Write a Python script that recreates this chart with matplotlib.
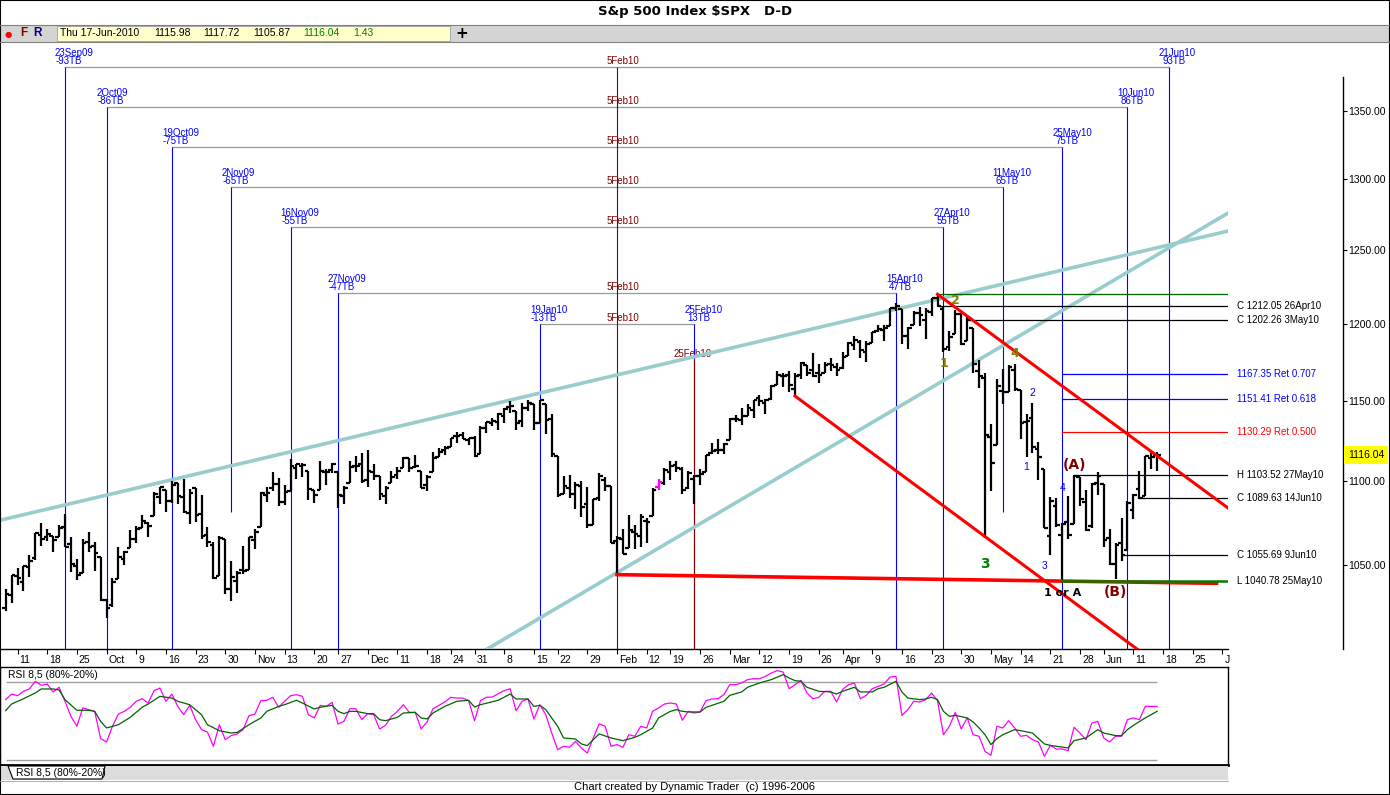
import matplotlib
matplotlib.use("Agg")
import matplotlib.pyplot as plt
import matplotlib.transforms as mtransforms
from matplotlib.lines import Line2D
from matplotlib.patches import Rectangle, Polygon
from matplotlib.ticker import NullLocator
import pandas as pd

plt.rcParams['font.family'] = ['Liberation Sans', 'DejaVu Sans']

# ---- trading calendar (bar 0 = 9 Sep 2009) ----
holidays = ['2009-11-26', '2009-12-25', '2010-01-01', '2010-01-18',
            '2010-02-15', '2010-04-02', '2010-05-31', '2010-07-05']
calendar = pd.bdate_range('2009-09-09', '2010-07-09', freq='C', holidays=holidays)

# ---- daily OHLC, 9 Sep 2009 .. 17 Jun 2010 ----
bar_open = [
    1025.36, 1032.99, 1043.92, 1040.15, 1049.03, 1053.99, 1067.87, 1066.60, 1067.14, 1066.35, 1072.69, 1062.56, 1049.48, 1045.38, 1063.69, 1061.02,
    1054.91, 1029.71, 1026.87, 1042.02, 1053.65, 1060.03, 1065.28, 1071.63, 1074.96, 1078.68, 1090.36, 1094.67, 1088.22, 1098.64, 1090.36, 1080.96, 1095.62, 1080.36, 1067.54, 1061.51, 1043.69, 1065.41,
    1036.18, 1040.92, 1047.30, 1047.30, 1064.95, 1072.31, 1091.86, 1096.04, 1098.31, 1087.59, 1094.13, 1108.08, 1109.44, 1106.44, 1094.66, 1094.86, 1105.83, 1106.49, 1105.47, 1091.07,
    1098.89, 1109.03, 1110.59, 1100.43, 1105.52, 1103.04, 1091.07, 1098.69, 1103.96, 1107.84, 1114.11, 1108.61, 1106.36, 1097.86, 1105.31, 1114.51, 1118.84, 1121.08, 1127.53, 1128.55, 1125.53, 1126.60,
    1116.56, 1132.66, 1135.71, 1136.27, 1140.52, 1145.96, 1143.81, 1137.31, 1145.68, 1147.72, 1136.03, 1147.95, 1138.68, 1115.49, 1092.40, 1095.80, 1091.94, 1096.93, 1086.32,
    1073.89, 1090.05, 1100.67, 1097.25, 1064.12, 1065.51, 1060.06, 1069.68, 1067.10, 1075.95, 1079.13, 1096.14, 1099.03, 1105.49, 1110.00, 1107.49, 1095.89, 1101.24, 1103.10,
    1105.36, 1117.01, 1119.36, 1119.12, 1125.12, 1138.40, 1137.56, 1140.22, 1143.96, 1151.71, 1148.53, 1150.83, 1159.94, 1166.13, 1166.68, 1157.25, 1166.47, 1172.70, 1170.03, 1167.58, 1167.71, 1173.75, 1171.75,
    1171.23, 1178.71, 1186.01, 1188.23, 1181.75, 1187.47, 1194.94, 1195.94, 1198.69, 1210.77, 1210.17, 1192.06, 1199.04, 1207.16, 1202.52, 1207.87, 1217.07, 1209.92, 1184.59, 1193.30, 1206.77,
    1188.58, 1197.50, 1169.24, 1164.38, 1127.04, 1122.27, 1156.39, 1155.43, 1170.04, 1157.19, 1136.52, 1138.78, 1119.57, 1107.34, 1067.26, 1084.78, 1067.42, 1075.51, 1074.27, 1102.59,
    1087.30, 1073.01, 1098.82, 1098.43, 1065.84, 1050.81, 1062.75, 1058.77, 1082.65, 1095.00, 1091.21, 1114.02, 1115.98]
bar_high = [
    1036.34, 1044.14, 1048.18, 1049.74, 1056.04, 1068.76, 1074.77, 1071.52, 1067.28, 1073.81, 1080.15, 1066.29, 1053.47, 1065.13, 1069.62, 1063.40,
    1054.91, 1030.60, 1042.58, 1060.55, 1058.02, 1070.67, 1073.04, 1079.46, 1075.30, 1093.17, 1096.56, 1094.67, 1100.17, 1098.64, 1101.36, 1095.21, 1095.83, 1091.75, 1072.48, 1063.26, 1066.83, 1065.41,
    1052.18, 1046.36, 1061.00, 1066.65, 1071.48, 1093.19, 1096.42, 1105.37, 1101.97, 1097.79, 1113.69, 1110.32, 1111.10, 1106.44, 1094.66, 1112.38, 1107.56, 1111.18, 1105.47, 1097.24,
    1112.28, 1115.58, 1117.28, 1119.13, 1110.72, 1103.04, 1097.04, 1106.25, 1108.50, 1114.76, 1114.11, 1116.21, 1106.36, 1103.74, 1117.68, 1120.27, 1121.58, 1126.48, 1130.38, 1130.38, 1126.42, 1127.64,
    1133.87, 1136.63, 1139.19, 1142.46, 1145.39, 1149.74, 1143.81, 1148.40, 1150.41, 1147.77, 1150.45, 1147.95, 1141.58, 1115.49, 1102.97, 1103.69, 1099.51, 1100.22, 1096.45,
    1089.38, 1104.73, 1102.72, 1097.25, 1067.13, 1071.20, 1079.28, 1073.67, 1080.04, 1077.81, 1095.67, 1101.03, 1108.24, 1112.42, 1112.29, 1108.58, 1106.42, 1103.50, 1107.24,
    1116.11, 1123.46, 1125.64, 1123.73, 1139.38, 1141.05, 1145.37, 1148.26, 1150.24, 1153.41, 1150.98, 1160.28, 1169.20, 1167.77, 1169.20, 1167.82, 1174.72, 1173.04, 1180.69, 1173.93, 1174.85, 1177.83, 1174.56,
    1181.43, 1187.73, 1191.80, 1189.60, 1188.55, 1194.66, 1199.20, 1199.04, 1210.65, 1213.92, 1210.17, 1197.87, 1208.58, 1210.99, 1210.27, 1217.28, 1219.80, 1211.38, 1195.05, 1209.36, 1207.99,
    1205.13, 1197.50, 1175.95, 1167.58, 1135.13, 1163.85, 1170.48, 1172.87, 1173.57, 1157.19, 1141.88, 1148.66, 1124.27, 1107.34, 1090.16, 1089.95, 1074.75, 1090.75, 1103.52, 1102.59,
    1094.77, 1098.56, 1105.67, 1098.43, 1071.36, 1063.15, 1077.74, 1087.85, 1092.25, 1105.91, 1115.59, 1118.74, 1117.72]
bar_low = [
    1023.97, 1028.04, 1038.40, 1035.00, 1043.42, 1052.87, 1061.20, 1064.27, 1057.46, 1066.35, 1060.39, 1045.85, 1041.17, 1045.38, 1057.83, 1046.47,
    1029.45, 1019.95, 1025.92, 1042.02, 1050.10, 1060.03, 1063.16, 1071.63, 1066.71, 1078.68, 1086.41, 1081.53, 1086.48, 1086.16, 1080.77, 1074.31, 1075.49, 1065.23, 1060.62, 1042.19, 1043.69, 1033.38,
    1029.38, 1033.94, 1045.15, 1047.30, 1059.32, 1072.31, 1087.40, 1093.81, 1084.90, 1085.33, 1094.13, 1101.13, 1102.70, 1088.40, 1086.81, 1094.86, 1097.63, 1104.75, 1083.74, 1086.25,
    1098.89, 1105.29, 1098.74, 1096.52, 1100.83, 1088.61, 1085.89, 1098.69, 1101.34, 1107.84, 1105.35, 1107.96, 1095.88, 1093.88, 1105.31, 1114.51, 1116.00, 1121.08, 1123.51, 1126.08, 1121.94, 1114.81,
    1116.56, 1129.66, 1133.95, 1131.32, 1136.22, 1142.02, 1131.77, 1133.18, 1143.80, 1131.39, 1135.77, 1129.25, 1114.84, 1090.18, 1092.40, 1089.86, 1083.11, 1078.46, 1071.59,
    1073.89, 1087.96, 1093.97, 1062.78, 1044.50, 1056.51, 1060.06, 1059.34, 1060.59, 1062.97, 1079.13, 1094.72, 1097.48, 1100.80, 1105.38, 1092.18, 1095.50, 1086.02, 1097.56,
    1105.36, 1116.51, 1116.58, 1116.66, 1125.12, 1136.77, 1134.90, 1140.09, 1138.99, 1146.97, 1141.45, 1150.35, 1159.94, 1159.09, 1155.33, 1152.88, 1163.83, 1166.01, 1165.09, 1161.48, 1167.71, 1168.92, 1165.77,
    1170.69, 1178.71, 1182.77, 1177.25, 1175.12, 1187.15, 1194.71, 1188.82, 1198.69, 1208.50, 1186.77, 1183.68, 1199.04, 1198.85, 1190.19, 1205.10, 1211.07, 1181.62, 1181.81, 1193.30, 1186.32,
    1188.58, 1168.12, 1158.15, 1065.79, 1094.15, 1122.27, 1147.71, 1155.43, 1156.14, 1126.14, 1114.96, 1117.20, 1100.66, 1071.58, 1055.90, 1072.70, 1040.78, 1065.59, 1074.27, 1084.78,
    1069.89, 1072.03, 1091.81, 1060.50, 1049.86, 1042.17, 1052.25, 1058.77, 1077.12, 1089.03, 1091.21, 1107.13, 1105.87]
bar_close = [
    1033.37, 1044.14, 1042.73, 1049.34, 1052.63, 1068.76, 1065.49, 1068.30, 1064.66, 1071.66, 1060.87, 1050.78, 1044.38, 1062.98, 1060.61, 1057.08,
    1029.85, 1025.21, 1040.46, 1054.72, 1057.58, 1065.48, 1071.49, 1076.19, 1073.19, 1092.02, 1096.56, 1087.68, 1097.91, 1091.06, 1081.40, 1092.91, 1079.60, 1066.95, 1063.41, 1042.63, 1066.11, 1036.19,
    1042.88, 1045.41, 1046.50, 1066.63, 1069.30, 1093.08, 1093.01, 1098.51, 1087.24, 1093.48, 1109.30, 1110.32, 1109.80, 1094.90, 1091.38, 1106.24, 1105.65, 1110.63, 1091.49, 1095.63,
    1108.86, 1109.24, 1099.92, 1105.98, 1103.25, 1091.94, 1095.95, 1102.35, 1106.41, 1114.11, 1107.93, 1109.18, 1096.08, 1102.47, 1114.05, 1118.02, 1120.59, 1126.48, 1127.78, 1126.20, 1126.42, 1115.10,
    1132.99, 1136.52, 1137.14, 1141.69, 1144.98, 1146.98, 1136.22, 1145.68, 1148.46, 1136.03, 1150.23, 1138.04, 1116.48, 1091.76, 1096.78, 1092.17, 1097.50, 1084.53, 1073.87,
    1089.19, 1103.32, 1097.28, 1063.11, 1066.19, 1056.74, 1070.52, 1068.13, 1078.47, 1075.51, 1094.87, 1099.51, 1106.75, 1109.17, 1108.01, 1094.60, 1105.24, 1102.94, 1104.49,
    1115.71, 1118.31, 1118.79, 1122.97, 1138.70, 1138.50, 1140.45, 1145.61, 1150.24, 1149.99, 1150.51, 1159.46, 1166.21, 1165.83, 1159.90, 1165.81, 1174.17, 1167.72, 1165.73, 1166.59, 1173.22, 1173.27, 1169.43,
    1178.10, 1187.44, 1189.44, 1182.45, 1186.44, 1194.37, 1196.48, 1197.30, 1210.65, 1211.67, 1192.13, 1197.52, 1207.17, 1205.94, 1208.67, 1217.28, 1212.05, 1183.71, 1191.36, 1206.78, 1186.69,
    1202.26, 1173.60, 1165.87, 1128.15, 1110.88, 1159.73, 1155.79, 1171.67, 1157.44, 1135.68, 1136.94, 1120.80, 1115.05, 1071.59, 1087.69, 1073.65, 1074.03, 1067.95, 1103.06, 1089.41,
    1070.71, 1098.38, 1102.83, 1064.88, 1050.47, 1062.00, 1055.69, 1086.84, 1091.60, 1089.63, 1115.23, 1114.61, 1116.04]
highlight_bar = '2010-02-17'

rsi = [66.7, 71.0, 69.7, 73.1, 74.9, 80.8, 77.7, 78.7, 72.6, 76.2,
       65.4, 53.8, 46.2, 60.3, 59.0, 57.7, 36.7, 34.1, 46.2, 55.6,
       57.7, 60.8, 65.4, 67.4, 64.1, 73.6, 75.6, 65.4, 71.0, 61.5,
       55.1, 62.3, 51.3, 43.6, 41.8, 30.8, 47.4, 35.9, 39.0, 40.3,
       43.6, 54.4, 55.6, 65.9, 66.2, 68.5, 60.8, 65.4, 69.7, 70.5,
       69.2, 55.1, 52.6, 62.3, 61.5, 64.6, 47.9, 50.0, 59.7, 59.7,
       51.3, 55.9, 55.1, 44.1, 46.9, 53.8, 57.7, 62.8, 56.9, 56.9,
       44.1, 49.5, 59.7, 62.3, 64.9, 68.5, 67.9, 67.9, 65.9, 50.5,
       65.9, 68.5, 68.7, 71.3, 73.6, 75.1, 58.2, 65.4, 67.2, 51.8,
       62.8, 55.1, 41.0, 28.2, 30.8, 30.0, 34.6, 29.5, 25.6, 37.2,
       48.0, 46.2, 30.8, 32.1, 30.0, 39.7, 38.5, 46.2, 44.9, 57.7,
       60.3, 63.3, 64.1, 63.3, 50.8, 57.7, 56.4, 57.2, 65.9, 67.2,
       67.4, 70.5, 78.2, 78.2, 79.5, 82.1, 82.8, 82.8, 84.6, 87.2,
       89.0, 87.9, 75.1, 78.2, 81.5, 71.8, 67.4, 68.5, 73.1, 73.1,
       64.9, 74.4, 78.2, 79.5, 67.4, 70.0, 75.1, 76.9, 78.7, 84.1,
       84.6, 54.6, 59.0, 65.4, 64.9, 66.7, 71.8, 65.9, 39.7, 46.2,
       56.9, 44.1, 52.6, 39.7, 38.5, 26.9, 23.8, 46.2, 44.9, 50.5,
       44.9, 38.5, 39.2, 35.9, 34.1, 23.1, 31.5, 28.7, 28.7, 27.4,
       45.4, 41.0, 35.9, 48.7, 50.0, 37.2, 34.1, 38.5, 38.5, 51.3,
       52.6, 51.3, 61.5, 61.5, 61.5]
rsi_avg_bars = [0, 1, 3, 5, 6, 8, 9, 10, 12, 14, 15, 16, 17, 19, 21, 23, 24, 26, 28, 29,
                31, 33, 34, 36, 38, 39, 41, 43, 44, 46, 47, 49, 50, 52, 53, 55, 56, 57, 58, 59,
                61, 62, 63, 64, 66, 67, 69, 70, 71, 72, 74, 76, 78, 79, 80, 83, 85, 86, 88, 89,
                90, 91, 93, 94, 96, 97, 98, 99, 100, 102, 104, 106, 107, 109, 110, 112, 113, 114, 115, 117,
                118, 119, 121, 122, 124, 125, 127, 129, 131, 132, 133, 134, 135, 137, 139, 140, 141, 143, 144, 146,
                147, 148, 150, 151, 152, 154, 155, 156, 157, 158, 159, 160, 162, 163, 164, 165, 166, 167, 168, 170,
                171, 173, 175, 176, 179, 180, 182, 184, 185, 187, 188, 189, 190, 192, 194]
rsi_avg = [58.2, 63.3, 67.4, 71.8, 74.9, 74.9, 74.1, 66.7, 58.5, 58.5, 57.7, 50.0, 44.9, 47.4, 53.1, 60.8, 63.3, 69.2, 67.9, 65.4,
           62.8, 55.1, 47.4, 42.8, 41.0, 41.5, 47.4, 52.6, 57.7, 61.5, 62.8, 66.2, 64.1, 59.5, 60.8, 62.3, 57.7, 55.9, 57.7, 57.7,
           55.9, 55.9, 51.3, 50.5, 53.1, 56.4, 56.9, 52.6, 51.8, 56.4, 61.5, 65.4, 66.2, 61.0, 62.8, 66.2, 71.0, 67.2, 67.2, 61.5,
           62.3, 59.0, 46.2, 37.2, 36.4, 32.6, 31.3, 35.9, 40.3, 37.2, 35.1, 37.7, 39.7, 44.9, 52.6, 57.7, 59.0, 57.7, 57.2, 57.2,
           60.8, 62.3, 65.4, 70.0, 72.6, 76.2, 79.5, 82.1, 85.9, 83.3, 81.3, 80.8, 76.2, 73.1, 72.6, 71.0, 73.1, 76.2, 72.6, 72.6,
           75.1, 76.2, 80.8, 72.6, 67.9, 66.7, 67.2, 68.5, 66.7, 57.7, 53.8, 54.6, 52.6, 49.5, 44.9, 39.7, 32.1, 36.7, 39.7, 43.6,
           42.8, 41.0, 32.6, 31.5, 29.5, 35.1, 37.2, 43.6, 41.0, 39.0, 39.0, 43.6, 46.9, 52.6, 57.7]

# ---- time-band lines around 5 Feb 2010 ----
pivot_date = '2010-02-05'
tb_left_dates = ['2009-09-23', '2009-10-02', '2009-10-19', '2009-11-02', '2009-11-16', '2009-11-27', '2010-01-19']
tb_right_dates = ['2010-06-21', '2010-06-10', '2010-05-25', '2010-05-11', '2010-04-27', '2010-04-15', '2010-02-25']
tb_counts = [93, 86, 75, 65, 55, 47, 13]
tb_levels = [1383.3, 1353.0, 1323.4, 1294.4, 1266.1, 1220.6, 1199.9]
tb_floors = [990, 990, 990, 1081.5, 990, 990, 990]
marker_date = '2010-02-25'
marker_top = 1177.5

# ---- price levels on the right ----
level_prices = [1212.05, 1202.26, 1167.35, 1151.41, 1130.29, 1103.52, 1089.63, 1055.69, 1040.78]
level_from = ['2010-04-26', '2010-05-03', '2010-05-25', '2010-05-25', '2010-05-25',
              '2010-05-27', '2010-06-14', '2010-06-09', '2010-05-25']
level_labels = ['C 1212.05 26Apr10', 'C 1202.26 3May10', '1167.35 Ret 0.707', '1151.41 Ret 0.618',
                '1130.29 Ret 0.500', 'H 1103.52 27May10', 'C 1089.63 14Jun10', 'C 1055.69 9Jun10',
                'L 1040.78 25May10']
level_line_colors = ['black', 'black', '#0000ff', '#0000ff', '#ff0000', 'black', 'black', 'black', '#008000']
level_text_colors = ['black', 'black', '#0000ff', '#0000ff', '#ff0000', 'black', 'black', 'black', 'black']
top_level = 1219.80
top_level_from = '2010-04-26'

# ---- trend lines (bar position, price) ----
teal_upper_x, teal_upper_y = [-1, 206], [1076.4, 1263.3]
teal_lower_x, teal_lower_y = [80, 206], [1000.2, 1276.0]
red_top_x, red_top_y = ['2010-04-26', 206], [1219.80, 1083.6]
red_bottom_x, red_bottom_y = ['2010-03-22', 192], [1153.0, 999.0]
red_flat_x, red_flat_y = ['2010-02-05', 204], [1044.5, 1039.5]

# ---- wave labels ----
wave_text = ['1', '2', '3', '4', '1', '2', '3', '4', '1 or A', '(A)', '(B)']
wave_dates = ['2010-04-27', '2010-04-29', '2010-05-06', '2010-05-13', '2010-05-17', '2010-05-18',
              '2010-05-20', '2010-05-25', '2010-05-25', '2010-05-27', '2010-06-08']
wave_prices = [1173.9, 1215.9, 1050.6, 1180.7, 1108.6, 1154.9, 1049.5, 1095.7, 1033.9, 1109.8, 1034.5]
wave_colors = ['#808000', '#808000', '#008000', '#808000', '#0000ff', '#0000ff', '#0000ff', '#0000ff',
               'black', '#800000', '#800000']
wave_sizes = [9, 9, 10, 9, 7.5, 7.5, 7.5, 7.5, 8, 10, 10]
wave_bold = [True, True, True, True, False, False, False, False, True, True, True]

# ---- date axis ----
tick_dates = ['2009-09-11', '2009-09-18', '2009-09-25', '2009-10-02', '2009-10-09', '2009-10-16', '2009-10-23',
              '2009-10-30', '2009-11-06', '2009-11-13', '2009-11-20', '2009-11-27', '2009-12-04', '2009-12-11',
              '2009-12-18', '2009-12-24', '2009-12-31', '2010-01-08', '2010-01-15', '2010-01-22', '2010-01-29',
              '2010-02-05', '2010-02-12', '2010-02-19', '2010-02-26', '2010-03-05', '2010-03-12', '2010-03-19',
              '2010-03-26', '2010-04-01', '2010-04-09', '2010-04-16', '2010-04-23', '2010-04-30', '2010-05-07',
              '2010-05-14', '2010-05-21', '2010-05-28', '2010-06-04', '2010-06-11', '2010-06-18', '2010-06-25',
              '2010-07-02']
tick_labels = ['11', '18', '25', 'Oct', '9', '16', '23', '30', 'Nov', '13', '20', '27', 'Dec', '11', '18', '24',
               '31', '8', '15', '22', '29', 'Feb', '12', '19', '26', 'Mar', '12', '19', '26', 'Apr', '9', '16',
               '23', '30', 'May', '14', '21', '28', 'Jun', '11', '18', '25', 'J']
price_ticks = [1050, 1100, 1150, 1200, 1250, 1300, 1350]


def bar(d):
    if isinstance(d, (int, float)):
        return d
    return calendar.get_loc(pd.Timestamp(d))


W, H = 1390, 795


def box(x0, y0, x1, y1):
    return [x0 / W, 1 - y1 / H, (x1 - x0) / W, (y1 - y0) / H]


def fx(x):
    return x / W


def fy(y):
    return 1 - y / H


def label(axis, text, x, y, dx=0, dy=0, **kw):
    axis.annotate(text, (x, y), xytext=(dx, dy), textcoords='offset pixels',
                  annotation_clip=False, **kw)


fig = plt.figure(figsize=(W / 100, H / 100), dpi=100)

# title and toolbar strip
fig.text(fx(695), fy(12), 'S&p 500 Index $SPX   D-D', ha='center', va='center',
         fontsize=9.5, fontweight='bold', family='DejaVu Sans')
fig.add_artist(Rectangle((0, fy(42)), 1, 17 / H, transform=fig.transFigure, fc='#d4d4d4', ec='none'))
for yy in (25, 42):
    fig.add_artist(Line2D([0, 1], [fy(yy)] * 2, transform=fig.transFigure, color='#808080', lw=0.8))
fig.text(fx(8), fy(34), '\u25CF', color='#ff0000', fontsize=6, ha='center', va='center', family='DejaVu Sans')
fig.text(fx(24), fy(33), 'F', color='#800000', fontsize=8.5, fontweight='bold', ha='center', va='center')
fig.text(fx(37), fy(33), 'R', color='#000080', fontsize=8.5, fontweight='bold', ha='center', va='center')
fig.add_artist(Rectangle((fx(57), fy(41)), (450 - 57) / W, 15 / H, transform=fig.transFigure,
                         fc='#ffffcc', ec='#a0a0a0', lw=0.6))
last_day = calendar[len(bar_close) - 1]
info_fields = [f'{last_day:%a} {last_day.day}-{last_day:%b-%Y}', f'{bar_open[-1]:.2f}', f'{bar_high[-1]:.2f}',
               f'{bar_low[-1]:.2f}', f'{bar_close[-1]:.2f}', f'{bar_close[-1] - bar_close[-2]:.2f}']
info_x = [60, 154, 203, 253, 303, 353]
info_colors = ['black', 'black', 'black', 'black', '#008000', '#008000']
for txt, xx, col in zip(info_fields, info_x, info_colors):
    fig.text(fx(xx), fy(33.5), txt, color=col, fontsize=7.5, va='center')
fig.text(fx(462), fy(33), '+', fontsize=11, fontweight='bold', ha='center', va='center', family='DejaVu Sans')

# ---- price pane ----
ax = fig.add_axes(box(0, 44, 1228, 649))
ax.set_yscale('log')
ax.set_xlim(-0.95, 205.94)
ax.set_ylim(1002.4, 1401.0)
for s in ('top', 'left', 'right'):
    ax.spines[s].set_visible(False)
ax.spines['bottom'].set_linewidth(1.0)
ax.yaxis.set_major_locator(NullLocator())
ax.yaxis.set_minor_locator(NullLocator())
ax.set_xticks([bar(d) for d in tick_dates], tick_labels)
ax.tick_params(axis='x', direction='out', length=3.6, width=0.8, pad=0.6, labelsize=7.5)
offset = mtransforms.ScaledTranslation(2 / 100, 0, fig.dpi_scale_trans)
for t in ax.get_xticklabels():
    t.set_horizontalalignment('left')
    t.set_transform(t.get_transform() + offset)

pivot = bar(pivot_date)
for left, right, n, level, floor in zip(tb_left_dates, tb_right_dates, tb_counts, tb_levels, tb_floors):
    xl, xr = bar(left), bar(right)
    ax.plot([xl, xr], [level, level], color='#999999', lw=0.9, zorder=1)
    ax.vlines([xl, xr], floor, level, colors='#0000ff', lw=0.8, zorder=1)
    for xx, d, tb, dx in ((xl, left, f'-{n}TB', -9), (xr, right, f'{n}TB', -7)):
        ts = pd.Timestamp(d)
        label(ax, f'{ts.day}{ts:%b%y}', xx, level, -10, 14, color='#0000ff', fontsize=7, va='center')
        label(ax, tb, xx, level, dx, 6, color='#0000ff', fontsize=7, va='center')
    label(ax, f'{pd.Timestamp(pivot_date).day}{pd.Timestamp(pivot_date):%b%y}', pivot, level, -10, 6,
          color='#800000', fontsize=7, va='center')
ax.vlines(pivot, 990, tb_levels[0], colors='#800000', lw=0.8, zorder=1)
mx = bar(marker_date)
ax.vlines(mx, 990, marker_top, colors='#800000', lw=0.8, zorder=1)
label(ax, f'{pd.Timestamp(marker_date).day}{pd.Timestamp(marker_date):%b%y}', mx, marker_top, -2, 4,
      color='#800000', fontsize=7, va='center', ha='center')

# trend lines
ax.plot([bar(x) for x in teal_upper_x], teal_upper_y, color='#99cccc', lw=2.6, zorder=3)
ax.plot([bar(x) for x in teal_lower_x], teal_lower_y, color='#99cccc', lw=2.6, zorder=3)

# OHLC bars
xs = list(range(len(bar_close)))
colors = ['black'] * len(xs)
colors[bar(highlight_bar)] = '#ff00ff'
ax.vlines(xs, bar_low, bar_high, colors=colors, lw=1.6, zorder=4)
ax.hlines(bar_open, [x - 0.62 for x in xs], xs, colors=colors, lw=1.6, zorder=4)
ax.hlines(bar_close, xs, [x + 0.62 for x in xs], colors=colors, lw=1.6, zorder=4)

# price levels
ax.plot([bar(top_level_from), 206], [top_level, top_level], color='#006400', lw=0.9, zorder=5)
for p, d, txt, lc, tc in zip(level_prices, level_from, level_labels, level_line_colors, level_text_colors):
    lw = 1.8 if lc == '#008000' else 0.9
    ax.plot([bar(d), 206], [p, p], color=lc, lw=lw, zorder=5 if lw < 1 else 6)
    ax.annotate(txt, (1, p), xycoords=ax.get_yaxis_transform(), xytext=(9, 0),
                textcoords='offset pixels', color=tc, fontsize=7, va='center', annotation_clip=False)

ax.plot([bar(x) for x in red_top_x], red_top_y, color='#ff0000', lw=2.2, zorder=5)
ax.plot([bar(x) for x in red_bottom_x], red_bottom_y, color='#ff0000', lw=2.2, zorder=5)
ax.plot([bar(x) for x in red_flat_x], red_flat_y, color='#ff0000', lw=2.6, zorder=5)

for txt, d, p, c, s, b in zip(wave_text, wave_dates, wave_prices, wave_colors, wave_sizes, wave_bold):
    ax.text(bar(d), p, txt, color=c, fontsize=s, fontweight='bold' if b else 'normal',
            ha='center', va='center', zorder=7, family='DejaVu Sans' if b else None)

# ---- right price scale ----
ay = fig.add_axes(box(1228, 77, 1343, 649))
ay.set_facecolor('none')
ay.set_yscale('log')
ay.set_ylim(1002.4, 1375.6)
for s in ('top', 'left', 'bottom'):
    ay.spines[s].set_visible(False)
ay.spines['right'].set_linewidth(1.0)
ay.set_xticks([])
ay.yaxis.tick_right()
ay.set_yticks(price_ticks, [f'{t:.2f}' for t in price_ticks])
ay.yaxis.set_minor_locator(NullLocator())
ay.tick_params(axis='y', direction='out', length=3, width=0.8, pad=1, labelsize=7.5)
ay.annotate(f'{bar_close[-1]:.2f}', (1, bar_close[-1]), xycoords=ay.get_yaxis_transform(),
            xytext=(5, 0), textcoords='offset pixels', fontsize=7.5, va='center', ha='left',
            bbox=dict(boxstyle='square,pad=0.35', fc='#ffff00', ec='none'), annotation_clip=False)

# ---- RSI pane ----
ar = fig.add_axes(box(0, 667, 1228, 765))
ar.set_xlim(ax.get_xlim())
ar.set_ylim(16.4, 91.8)
ar.set_xticks([])
ar.set_yticks([])
for s in ar.spines.values():
    s.set_linewidth(1.0)
ar.spines['bottom'].set_linewidth(2.0)
ar.hlines([80, 20], 0, len(rsi) - 1, colors='#a0a0a0', lw=1.0)
ar.plot(range(len(rsi)), rsi, color='#ff00ff', lw=0.9)
ar.plot(rsi_avg_bars, rsi_avg, color='#006400', lw=0.9)
fig.text(fx(8), fy(675), 'RSI 8,5 (80%-20%)', fontsize=7.5, va='center')

# tab strip and footer
fig.add_artist(Rectangle((0, fy(780)), 1228 / W, 14 / H, transform=fig.transFigure, fc='#dcdcdc', ec='none'))
tab = [(8, 766), (13, 779), (102, 779), (105, 766)]
fig.add_artist(Polygon([(fx(a), fy(b)) for a, b in tab], closed=True, transform=fig.transFigure,
                       fc='white', ec='black', lw=0.8))
fig.text(fx(16), fy(772.5), 'RSI 8,5 (80%-20%)', fontsize=7.5, va='center')
fig.add_artist(Line2D([0, 1228 / W], [fy(781)] * 2, transform=fig.transFigure, color='#a0a0a0', lw=0.6))
fig.text(fx(695), fy(787), 'Chart created by Dynamic Trader  (c) 1996-2006', fontsize=8, ha='center', va='center')
fig.add_artist(Rectangle((0, 0), 1, 1, transform=fig.transFigure, fill=False, ec='black', lw=1.5))

fig.savefig('out.png', dpi=100)
